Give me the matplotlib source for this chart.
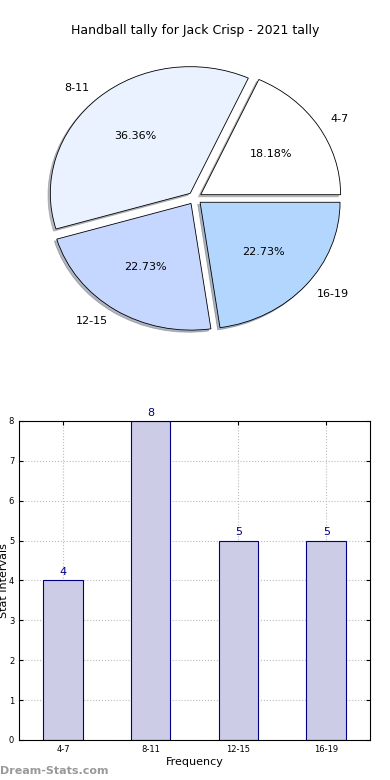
import matplotlib
matplotlib.use("Agg")
import matplotlib.pyplot as plt

categories = ["4-7", "8-11", "12-15", "16-19"]
counts = [4, 8, 5, 5]
pie_colors = ["#FFFFFF", "#EAF1FF", "#C6D7FF", "#B3D6FF"]

fig = plt.figure(figsize=(3.9, 7.8), dpi=100)

# pie on top (slightly squashed, like the old non-equal-aspect output)
ax_pie = fig.add_axes([0.051, 0.543, 0.897, 0.406])
ax_pie.pie(counts, labels=categories, colors=pie_colors, autopct="%1.2f%%",
           explode=[0.05] * len(counts),
           shadow={"shade": 0.5, "ox": -0.012, "oy": -0.012},
           startangle=0,
           wedgeprops={"edgecolor": "black", "linewidth": 0.6},
           textprops={"fontsize": 8})
ax_pie.set_aspect("auto")
ax_pie.set_xlim(-1.25, 1.25)
ax_pie.set_ylim(-1.25, 1.25)
fig.text(0.5, 0.961, "Handball tally for Jack Crisp - 2021 tally",
         ha="center", va="center", fontsize=9)

# bar chart below
ax = fig.add_axes([0.049, 0.0513, 0.9, 0.409])
x = range(len(categories))
bars = ax.bar(x, counts, width=0.45, color="#CCCCE6", edgecolor="navy",
              linewidth=0.8, zorder=2)
for b, v in zip(bars, counts):
    ax.text(b.get_x() + b.get_width() / 2, v + 0.08, str(v), ha="center",
            va="bottom", color="navy", fontsize=8)
ax.set_xlim(-0.5, 3.5)
ax.set_ylim(0, 8)
ax.set_xticks(list(x))
ax.set_xticklabels(categories)
ax.set_yticks(range(0, 9))
ax.tick_params(direction="in", labelsize=6, top=True, right=True, length=3)
ax.grid(True, linestyle=":", color="#BBBBBB", linewidth=0.8, zorder=0)
ax.set_xlabel("Frequency", fontsize=8, labelpad=2)
ax.set_ylabel("Stat Intervals", fontsize=8, labelpad=0)

fig.text(0.0, 0.012, "Dream-Stats.com", color="#999999", fontsize=8,
         fontweight="bold", ha="left", va="center")

fig.savefig("out.png", dpi=100)
